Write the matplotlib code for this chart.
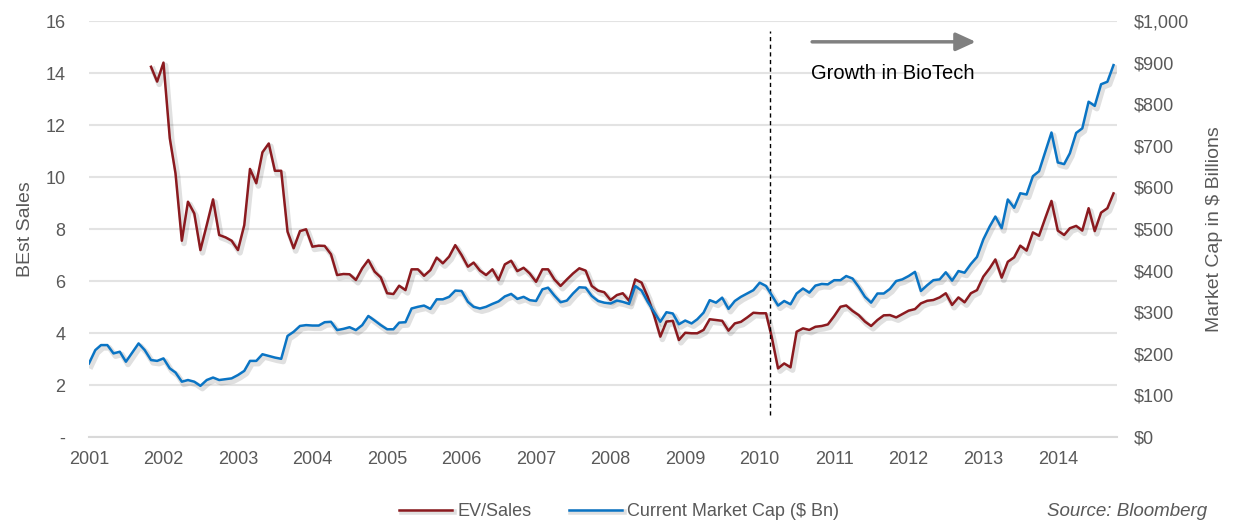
import numpy as np
import pandas as pd
import matplotlib
matplotlib.use("Agg")
import matplotlib.pyplot as plt
import matplotlib.patheffects as pe
from matplotlib.ticker import FuncFormatter

# monthly series, Jan 2001 .. Oct 2014
dates = pd.date_range("2001-01-01", periods=166, freq="MS")

# market cap ($ Bn), right axis
market_cap = [
    177, 209, 221, 221, 201, 205, 181, 203, 225, 209,
    185, 183, 189, 165, 155, 133, 137, 133, 123, 137,
    143, 137, 139, 141, 149, 159, 183, 183, 199, 195,
    191, 188, 243, 253, 267, 269, 268, 268, 276, 277,
    257, 260, 264, 257, 269, 291, 280, 269, 259, 259,
    275, 276, 309, 313, 316, 308, 331, 331, 337, 352,
    351, 325, 313, 309, 313, 320, 326, 338, 344, 332,
    337, 329, 327, 355, 359, 340, 324, 328, 345, 360,
    359, 339, 327, 323, 321, 328, 325, 320, 363, 352,
    325, 301, 277, 300, 297, 271, 280, 273, 283, 299,
    329, 323, 335, 308, 327, 337, 345, 353, 371, 363,
    341, 316, 327, 319, 345, 357, 347, 364, 368, 367,
    377, 377, 387, 381, 361, 337, 323, 345, 345, 356,
    375, 379, 387, 397, 351, 365, 377, 379, 396, 376,
    399, 395, 416, 433, 475, 506, 530, 502, 571, 551,
    586, 583, 627, 639, 686, 732, 660, 656, 682, 731,
    742, 806, 796, 848, 854, 894,
]

# EV / Sales, left axis (no data before Nov 2001)
ev_sales = [np.nan] * 10 + [
    14.24, 13.67, 14.40, 11.49, 10.14, 7.55, 9.05, 8.60, 7.19, 8.15,
    9.14, 7.77, 7.68, 7.55, 7.19, 8.15, 10.31, 9.76, 10.95, 11.29,
    10.24, 10.24, 7.90, 7.26, 7.92, 7.99, 7.32, 7.36, 7.35, 7.03,
    6.23, 6.27, 6.26, 6.04, 6.49, 6.81, 6.36, 6.14, 5.53, 5.50,
    5.82, 5.65, 6.45, 6.45, 6.20, 6.42, 6.90, 6.68, 6.94, 7.38,
    7.00, 6.55, 6.71, 6.40, 6.23, 6.45, 6.04, 6.64, 6.78, 6.38,
    6.51, 6.29, 5.97, 6.45, 6.45, 6.06, 5.81, 6.06, 6.29, 6.49,
    6.40, 5.81, 5.63, 5.57, 5.27, 5.46, 5.53, 5.24, 6.06, 5.94,
    5.40, 4.69, 3.86, 4.44, 4.47, 3.73, 4.01, 3.99, 3.99, 4.12,
    4.53, 4.50, 4.47, 4.09, 4.37, 4.43, 4.60, 4.78, 4.76, 4.76,
    3.85, 2.64, 2.83, 2.68, 4.05, 4.18, 4.12, 4.24, 4.27, 4.33,
    4.65, 5.01, 5.06, 4.85, 4.69, 4.44, 4.27, 4.50, 4.68, 4.69,
    4.60, 4.73, 4.86, 4.92, 5.14, 5.24, 5.27, 5.37, 5.53, 5.08,
    5.37, 5.18, 5.53, 5.65, 6.17, 6.49, 6.83, 6.13, 6.74, 6.91,
    7.36, 7.17, 7.87, 7.74, 8.43, 9.08, 7.94, 7.77, 8.03, 8.12,
    7.94, 8.80, 7.92, 8.63, 8.80, 9.37,
]

years = list(range(2001, 2015))
left_ticks = list(range(0, 17, 2))
right_ticks = list(range(0, 1001, 100))

RED = "#8b1a1f"
BLUE = "#0a74c4"
GREY_TXT = "#595959"
FONT = ["Liberation Sans Narrow", "Liberation Sans", "DejaVu Sans"]

plt.rcParams["font.family"] = FONT

fig = plt.figure(figsize=(12.36, 5.23), dpi=100)
ax = fig.add_axes([0.072, 0.1644, 0.8317, 0.7954])
ax2 = ax.twinx()

shadow = [pe.SimpleLineShadow(offset=(1.5, -2), shadow_color="#000000", alpha=0.12, linewidth=4),
          pe.Normal()]

l1, = ax.plot(dates, ev_sales, color=RED, lw=1.8, label="EV/Sales", path_effects=shadow, zorder=3)
l2, = ax2.plot(dates, market_cap, color=BLUE, lw=1.8, label="Current Market Cap ($ Bn)",
               path_effects=shadow, zorder=3)

x_end = pd.Timestamp("2014-10-18")
ax.set_xlim(pd.Timestamp("2001-01-01"), x_end)
ax.set_ylim(0, 16)
ax2.set_ylim(0, 1000)

ax.set_xticks([pd.Timestamp(f"{y}-01-01") for y in years])
ax.set_xticklabels([str(y) for y in years])
ax.set_yticks(left_ticks)
ax.set_yticklabels(["-" if v == 0 else str(v) for v in left_ticks])
ax2.set_yticks(right_ticks)
ax2.yaxis.set_major_formatter(FuncFormatter(lambda v, p: f"${int(v):,}"))

for a in (ax, ax2):
    for s in a.spines.values():
        s.set_visible(False)
    a.tick_params(length=0, labelsize=13, colors=GREY_TXT)
ax.spines["bottom"].set_visible(True)
ax.spines["bottom"].set_color("#d9d9d9")
ax.spines["bottom"].set_linewidth(1.5)
ax.tick_params(axis="x", pad=10)
ax.tick_params(axis="y", pad=17)
ax2.tick_params(axis="y", pad=12)

ax.grid(axis="y", color="#e3e3e3", lw=1.5)
ax.set_axisbelow(True)

ax.set_ylabel("BEst Sales", fontsize=14, color=GREY_TXT, labelpad=8)
ax2.set_ylabel("Market Cap in $ Billions", fontsize=14, color=GREY_TXT, labelpad=12)

# event marker and annotation
ax.vlines(pd.Timestamp("2010-02-20"), 0.85, 15.6, colors="black", linestyles=(0, (3, 2.5)), lw=1, zorder=4)
ax.annotate("", xy=(pd.Timestamp("2012-11-25"), 15.2), xytext=(pd.Timestamp("2010-09-15"), 15.2),
            arrowprops=dict(arrowstyle="-|>,head_length=1.2,head_width=0.55", color="#808080", lw=2.5,
                            shrinkA=0, shrinkB=0))
ax.text(pd.Timestamp("2010-09-10"), 14.0, "Growth in BioTech", fontsize=14.5, color="black",
        ha="left", va="center")

fig.legend(handles=[l1, l2], loc="center", bbox_to_anchor=(0.501, 0.022), ncol=2, frameon=False,
           fontsize=13, handlelength=2.9, columnspacing=2.1, handletextpad=0.3,
           labelcolor=GREY_TXT)
fig.text(0.977, 0.022, "Source: Bloomberg", ha="right", va="center", fontsize=13.5,
         style="italic", color=GREY_TXT)

fig.savefig("out.png", dpi=100)
